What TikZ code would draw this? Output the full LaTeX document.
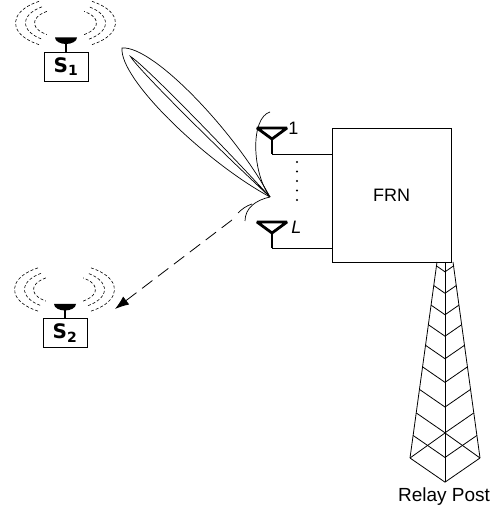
\documentclass[tikz,border=0pt]{standalone}
\usepackage{fontspec}
\setmainfont{Liberation Sans}
\newfontfamily\stafont{DejaVu Sans}
\usetikzlibrary{arrows.meta}

\begin{document}
\begin{tikzpicture}[
  x=1pt, y=1pt,
  line width=0.8pt,
  station/.style={
    draw,
    minimum width=44pt,
    minimum height=29pt,
    inner sep=0pt,
    font=\stafont\bfseries\fontsize{20}{20}\selectfont
  },
  radio/.style={dash pattern=on 3pt off 2pt, line width=0.6pt},
  ant/.style={line width=2.8pt, line join=bevel},
  lobe/.style={line width=0.7pt},
  beam/.style={
    -{Latex[length=14pt,width=10pt]},
    dash pattern=on 13pt off 7pt,
    line width=0.8pt
  },
  lbl/.style={font=\fontsize{18}{18}\selectfont, inner sep=0pt, anchor=west}
]
  \useasboundingbox (0,0) rectangle (496,518);

  % users with their dish and rings
  \foreach \n/\x/\y/\k in {s1/66/451.5/1, s2/65/185/2}{
    \node[station] (\n) at (\x,\y) {S\textsubscript{\k}};
    \draw[ant] (\n.north) -- ++(0,10);
    \fill (\x-11,\y+29) arc[start angle=180, end angle=360,
      x radius=11pt, y radius=6.5pt] -- cycle;
    \foreach \rx/\ry/\a in {31/14.5/127, 40/20/126, 50/25.5/122}{
      \draw[radio] (\x-0.5,\y+43.5) ++(\a:\rx pt and \ry pt)
        arc[start angle=\a, end angle=360-\a, x radius=\rx pt, y radius=\ry pt];
      \draw[radio] (\x-0.5,\y+43.5) ++(\a-180:\rx pt and \ry pt)
        arc[start angle=\a-180, end angle=180-\a, x radius=\rx pt, y radius=\ry pt];
    }
  }

  % main lobe and side lobes
  \coordinate (focus) at (270,321);
  \begin{scope}[shift={(focus)}, rotate=134.8]
    \draw[lobe] (0,0) .. controls (70,21) and (190,24) .. (210,0)
      .. controls (190,-24) and (70,-21) .. (0,0);
    \draw[lobe] (0,0) .. controls (80,3) and (185,3.5) .. (198,0)
      .. controls (185,-3.5) and (80,-3) .. (0,0);
  \end{scope}
  \draw[lobe] (focus) .. controls (252,345) and (250,400) .. (270,406);
  \draw[lobe] (focus) .. controls (256,318) and (245,310) .. (245,297);
  \draw[lobe] (238,305) .. controls (242,309) and (246,312) .. (252,314);

  \coordinate (bstart) at (232,298);
  \coordinate (bend) at (115,209);
  \draw[beam] (bstart) -- (bend);

  \node[draw, minimum width=119pt, minimum height=134pt,
    font=\fontsize{18}{18}\selectfont] (frn) at (391.5,323) {FRN};

  % array elements 1..L
  \foreach \n/\y in {a1/390, aL/296}{
    \draw[ant] (257,\y) -- (287,\y) -- (272,\y-11) -- cycle;
    \draw[ant] (272,\y-11) -- (272,\y-26) coordinate (\n);
    \draw (\n) -- (\n -| frn.west);
  }
  \node[lbl] (n1) at (288,390) {1};
  \node[lbl] (nL) at (291,291) {\itshape L};
  \foreach \d in {0,...,4}
    \fill (297,356-9.5*\d) circle (1.2pt);

  % relay post
  \draw (437,256) -- (410,60);
  \draw (453,256) -- (480,60);
  \draw (445,256) -- (445,36);
  \foreach \t in {0.02,0.12,0.22,0.32,0.425,0.535,0.65,0.77,0.885,1}
    \draw ({437-27*\t},{256-196*\t}) -- (445,{256-196*\t-0.69*(8+27*\t)})
      -- ({453+27*\t},{256-196*\t});
  \draw (410,60) -- (445,85) -- (480,60);
  \node[font=\fontsize{19}{19}\selectfont] (post) at (444,21.5) {Relay Post};
\end{tikzpicture}
\end{document}
